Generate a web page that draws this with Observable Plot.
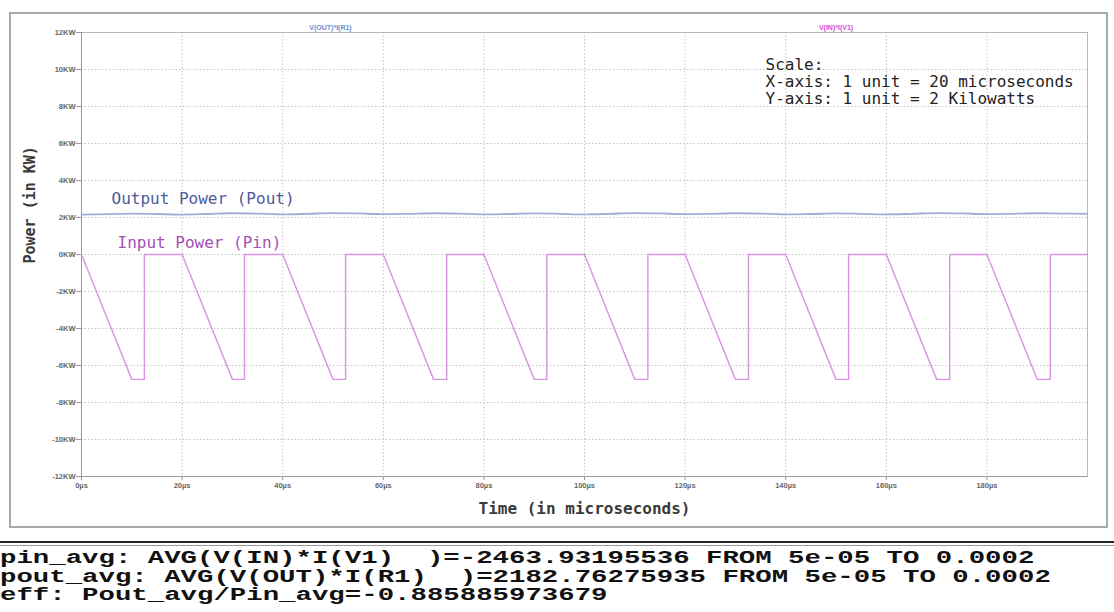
<!DOCTYPE html>
<html>
<head>
<meta charset="utf-8">
<script src="https://cdn.jsdelivr.net/npm/d3@7"></script>
<script src="https://cdn.jsdelivr.net/npm/@observablehq/plot@0.6"></script>
<style>
  html, body { margin: 0; padding: 0; background: #fff; }
  #wrap { position: relative; width: 1114px; height: 612px; overflow: hidden; }
  #win { position: absolute; left: 9px; top: 12px; width: 1099px; height: 516px; box-sizing: border-box; border: 2px solid #a9a9a9; pointer-events: none; }
  #rule1 { position: absolute; left: 0; top: 541px; width: 1114px; height: 0; border-top: 2px solid #262626; }
  #rule2 { position: absolute; left: 0; top: 545px; width: 1114px; height: 0; border-top: 1px solid #9a9a9a; }
  #log { position: absolute; left: 0; top: 549px; margin: 0; font-family: "Liberation Mono", "DejaVu Sans Mono", monospace; font-weight: bold; font-size: 18px; line-height: 18.5px; color: #111; white-space: pre; transform: scaleX(1.52); transform-origin: left top; }
</style>
</head>
<body>
<div id="wrap">
  <div id="chart"></div>
  <div id="win"></div>
  <div id="rule1"></div>
  <div id="rule2"></div>
  <pre id="log"></pre>
</div>
<script>
// ---- data ----
const xTicks = [0, 20, 40, 60, 80, 100, 120, 140, 160, 180];
const yTicks = [-12, -10, -8, -6, -4, -2, 0, 2, 4, 6, 8, 10, 12];

// Input power V(IN)*I(V1) in KW vs time in µs
const pinTime = [
  0, 10, 12.5, 12.5,
  20, 30, 32.4, 32.4,
  40, 50, 52.5, 52.5,
  60, 70, 72.6, 72.6,
  80, 90, 92.5, 92.5,
  100, 110, 112.6, 112.6,
  120, 130, 132.6, 132.6,
  140, 150, 152.5, 152.5,
  160, 170, 172.6, 172.6,
  180, 190, 192.6, 192.6,
  200
];
const pinPower = [
  0, -6.75, -6.75, 0,
  0, -6.75, -6.75, 0,
  0, -6.75, -6.75, 0,
  0, -6.75, -6.75, 0,
  0, -6.75, -6.75, 0,
  0, -6.75, -6.75, 0,
  0, -6.75, -6.75, 0,
  0, -6.75, -6.75, 0,
  0, -6.75, -6.75, 0,
  0, -6.75, -6.75, 0,
  0
];

// Output power V(OUT)*I(R1) in KW vs time in µs
const poutTime = [0, 5, 10, 15, 20, 25, 30, 35, 40, 45, 50, 55, 60, 65, 70, 75, 80, 85, 90, 95, 100,
  105, 110, 115, 120, 125, 130, 135, 140, 145, 150, 155, 160, 165, 170, 175, 180, 185, 190, 195, 200];
const poutPower = [2.15, 2.18, 2.21, 2.19, 2.16, 2.19, 2.23, 2.21, 2.17, 2.2, 2.24, 2.22, 2.18, 2.2, 2.23, 2.21, 2.17, 2.19, 2.22, 2.2,
  2.17, 2.2, 2.24, 2.22, 2.18, 2.2, 2.23, 2.21, 2.17, 2.19, 2.22, 2.2, 2.17, 2.2, 2.24, 2.22, 2.18, 2.2, 2.23, 2.21, 2.2];

const seriesLabels = ["V(OUT)*I(R1)", "V(IN)*I(V1)"];
const poutNote = "Output Power (Pout)";
const pinNote = "Input Power (Pin)";
const scaleNote = "Scale:\nX-axis: 1 unit = 20 microseconds\nY-axis: 1 unit = 2 Kilowatts";
const xTitle = "Time (in microseconds)";
const yTitle = "Power (in KW)";
const logLines = [
  "pin_avg: AVG(V(IN)*I(V1)  )=-2463.93195536 FROM 5e-05 TO 0.0002",
  "pout_avg: AVG(V(OUT)*I(R1)  )=2182.76275935 FROM 5e-05 TO 0.0002",
  "eff: Pout_avg/Pin_avg=-0.885885973679"
];

// ---- build tables ----
const pin = pinTime.map((t, i) => ({t, p: pinPower[i]}));
const pout = poutTime.map((t, i) => ({t, p: poutPower[i]}));

const mono = "DejaVu Sans Mono, monospace";

const chart = Plot.plot({
  width: 1114,
  height: 535,
  marginLeft: 81,
  marginRight: 27,
  marginTop: 32,
  marginBottom: 59,
  x: {domain: [0, 200]},
  y: {domain: [-12, 12]},
  style: {fontFamily: "Liberation Sans, Arial, sans-serif", background: "transparent"},
  marks: [
    Plot.gridX(xTicks, {stroke: "#c4c4c4", strokeOpacity: 1, strokeDasharray: "1.5,2"}),
    Plot.gridY(yTicks, {stroke: "#c4c4c4", strokeOpacity: 1, strokeDasharray: "1.5,2"}),
    Plot.frame({stroke: "#b8b8b8"}),
    Plot.ruleX([0], {stroke: "#999"}),
    Plot.ruleY([-12], {stroke: "#999"}),
    Plot.axisY(yTicks, {tickFormat: d => d + "KW", tickSize: 5, tickPadding: 1, fontSize: 7.5, fontWeight: "bold", stroke: "#999", fill: "#666", label: null}),
    Plot.axisX(xTicks, {tickFormat: d => d + "µs", tickSize: 4, tickPadding: 2, fontSize: 7.5, fontWeight: "bold", stroke: "#999", fill: "#666", label: null}),
    Plot.line(pout, {x: "t", y: "p", stroke: "#a3abd3", strokeWidth: 1.8, curve: "monotone-x"}),
    Plot.line(pin, {x: "t", y: "p", stroke: "#d993e2", strokeWidth: 1.4}),
    Plot.text([seriesLabels[0]], {x: 49.5, frameAnchor: "top", dy: -7, fontSize: 7, fontWeight: "bold", fill: "#6a8fd2"}),
    Plot.text([seriesLabels[1]], {x: 150, frameAnchor: "top", dy: -7, fontSize: 7, fontWeight: "bold", fill: "#d64bd6"}),
    Plot.text([poutNote], {frameAnchor: "top-left", dx: 30, dy: 166, textAnchor: "start", lineAnchor: "middle", fontFamily: mono, fontSize: 16, fill: "#4d5a9c"}),
    Plot.text([pinNote], {frameAnchor: "top-left", dx: 36, dy: 210, textAnchor: "start", lineAnchor: "middle", fontFamily: mono, fontSize: 16, fill: "#a34fb2"}),
    Plot.text([scaleNote], {frameAnchor: "top-left", dx: 684, dy: 25.5, textAnchor: "start", lineAnchor: "top", lineHeight: 1.05, fontFamily: mono, fontSize: 16, fill: "#222"}),
    Plot.text([xTitle], {frameAnchor: "bottom", dy: 37, fontFamily: mono, fontSize: 16, fontWeight: "bold", fill: "#3a3a3a"}),
    Plot.text([yTitle], {frameAnchor: "left", dx: -51, dy: 9, rotate: -90, fontFamily: mono, fontSize: 15, fontWeight: "bold", fill: "#3a3a3a"})
  ]
});
document.getElementById("chart").appendChild(chart);
document.getElementById("log").textContent = logLines.join("\n");
</script>
</body>
</html>
